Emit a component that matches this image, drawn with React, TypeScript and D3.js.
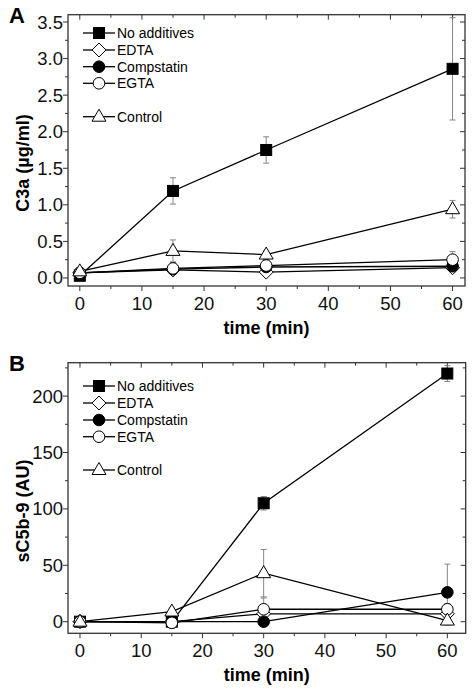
import React from "react";
import * as d3 from "d3";

const times = [0, 15, 30, 60];
const seriesNames = ["No additives", "EDTA", "Compstatin", "EGTA", "Control"];
const markerKinds = ["square", "diamond", "dot", "circle", "triangle"];

// Panel A: C3a (µg/ml)
const c3aNoAdd = [0.03, 1.19, 1.75, 2.86];
const c3aNoAddErr = [0.02, 0.18, 0.18, 0.7];
const c3aEDTA = [0.07, 0.11, 0.08, 0.14];
const c3aEDTAErr = [0.02, 0.03, 0.03, 0.03];
const c3aComp = [0.07, 0.12, 0.15, 0.16];
const c3aCompErr = [0.02, 0.05, 0.05, 0.04];
const c3aEGTA = [0.07, 0.13, 0.17, 0.25];
const c3aEGTAErr = [0.02, 0.08, 0.08, 0.11];
const c3aCtrl = [0.09, 0.37, 0.32, 0.94];
const c3aCtrlErr = [0.05, 0.15, 0.05, 0.12];

// Panel B: sC5b-9 (AU)
const c5NoAdd = [0, 0, 105, 220];
const c5NoAddErr = [0, 1, 6, 7];
const c5EDTA = [0, 0, 7, 7];
const c5EDTAErr = [0, 1, 2, 2];
const c5Comp = [0, 0, 0, 26];
const c5CompErr = [0, 1, 1, 25];
const c5EGTA = [0, -1, 11, 11];
const c5EGTAErr = [0, 5, 10, 5];
const c5Ctrl = [0, 9, 43, 1];
const c5CtrlErr = [0, 3, 21, 4];

const xTicksMajor = [0, 10, 20, 30, 40, 50, 60];
const aYTicks = [0, 0.5, 1.0, 1.5, 2.0, 2.5, 3.0, 3.5];
const bYTicks = [0, 50, 100, 150, 200];

const FONT = "Liberation Sans, Arial, Helvetica, sans-serif";

function Marker({ kind, x, y }: { kind: string; x: number; y: number }) {
  const sw = 1;
  if (kind === "square")
    return <rect x={x - 5.5} y={y - 5.5} width={11} height={11} fill="#000" stroke="#000" strokeWidth={sw} />;
  if (kind === "diamond")
    return (
      <path d={`M${x},${y - 7}L${x + 7},${y}L${x},${y + 7}L${x - 7},${y}Z`} fill="#fff" stroke="#000" strokeWidth={sw} />
    );
  if (kind === "dot") return <circle cx={x} cy={y} r={5.8} fill="#000" stroke="#000" strokeWidth={sw} />;
  if (kind === "circle") return <circle cx={x} cy={y} r={5.8} fill="#fff" stroke="#000" strokeWidth={sw} />;
  return (
    <path d={`M${x},${y - 7.5}L${x + 7},${y + 4.5}L${x - 7},${y + 4.5}Z`} fill="#fff" stroke="#000" strokeWidth={sw} />
  );
}

type PanelProps = {
  letter: string;
  left: number;
  right: number;
  top: number;
  bottom: number;
  xDomain: [number, number];
  yDomain: [number, number];
  yTicks: number[];
  yMinorStep: number;
  yFmt: (v: number) => string;
  yLabel: string;
  yLabelCenter: number;
  values: number[][];
  errors: number[][];
  legendY: number[];
};

function Panel(p: PanelProps) {
  const x = d3.scaleLinear().domain(p.xDomain).range([p.left, p.right]);
  const y = d3.scaleLinear().domain(p.yDomain).range([p.bottom, p.top]);
  const line = d3
    .line<[number, number]>()
    .x((d) => x(d[0]))
    .y((d) => y(d[1]));
  const xMinor = d3.range(5, 61, 10);
  const yMinor: number[] = [];
  for (let v = p.yTicks[0] + p.yMinorStep; v <= p.yDomain[1]; v += p.yMinorStep * 2) yMinor.push(v);
  const frame = "#333";
  const maj = 5;
  const min = 3;
  const clipId = "clip" + p.letter;
  return (
    <g fontFamily={FONT}>
      <defs>
        <clipPath id={clipId}>
          <rect x={p.left} y={p.top} width={p.right - p.left} height={p.bottom - p.top} />
        </clipPath>
      </defs>
      {/* ticks */}
      {xTicksMajor.map((t) => (
        <g key={"xm" + t} stroke={frame} strokeWidth={1}>
          <line x1={x(t)} x2={x(t)} y1={p.bottom} y2={p.bottom + maj} />
          <line x1={x(t)} x2={x(t)} y1={p.top} y2={p.top + maj} />
        </g>
      ))}
      {xMinor.map((t) => (
        <g key={"xn" + t} stroke={frame} strokeWidth={1}>
          <line x1={x(t)} x2={x(t)} y1={p.bottom} y2={p.bottom + min} />
          <line x1={x(t)} x2={x(t)} y1={p.top} y2={p.top + min} />
        </g>
      ))}
      {p.yTicks.map((t) => (
        <g key={"ym" + t} stroke={frame} strokeWidth={1}>
          <line x1={p.left - maj} x2={p.left} y1={y(t)} y2={y(t)} />
          <line x1={p.right - maj} x2={p.right} y1={y(t)} y2={y(t)} />
        </g>
      ))}
      {yMinor.map((t) => (
        <g key={"yn" + t} stroke={frame} strokeWidth={1}>
          <line x1={p.left - min} x2={p.left} y1={y(t)} y2={y(t)} />
          <line x1={p.right - min} x2={p.right} y1={y(t)} y2={y(t)} />
        </g>
      ))}
      <rect
        x={p.left}
        y={p.top}
        width={p.right - p.left}
        height={p.bottom - p.top}
        fill="none"
        stroke={frame}
        strokeWidth={1.3}
      />
      {/* tick labels */}
      {xTicksMajor.map((t) => (
        <text key={"xl" + t} x={x(t)} y={p.bottom + 24} textAnchor="middle" fontSize={18.5} fill="#111">
          {t}
        </text>
      ))}
      {p.yTicks.map((t) => (
        <text key={"yl" + t} x={p.left - 5} y={y(t) + 6.5} textAnchor="end" fontSize={18.5} fill="#111">
          {p.yFmt(t)}
        </text>
      ))}
      <text x={(p.left + p.right) / 2 + 0} y={p.bottom + 48} textAnchor="middle" fontSize={18} fontWeight="bold">
        time (min)
      </text>
      <text
        transform={`translate(29,${p.yLabelCenter}) rotate(-90)`}
        textAnchor="middle"
        fontSize={18}
        fontWeight="bold"
      >
        {p.yLabel}
      </text>
      <text x={9} y={p.top + 8} fontSize={22} fontWeight="bold">
        {p.letter}
      </text>
      {/* data */}
      <g clipPath={`url(#${clipId})`}>
        {p.values.map((vals, i) => (
          <path
            key={"ln" + i}
            d={line(times.map((t, j) => [t, vals[j]] as [number, number])) || ""}
            fill="none"
            stroke="#000"
            strokeWidth={1.3}
          />
        ))}
        {p.values.map((vals, i) =>
          vals.map((v, j) => {
            const e = p.errors[i][j];
            if (e <= 0) return null;
            const cx = x(times[j]);
            return (
              <g key={"eb" + i + "-" + j} stroke="#777" strokeWidth={0.9}>
                <line x1={cx} x2={cx} y1={y(v - e)} y2={y(v + e)} />
                <line x1={cx - 3} x2={cx + 3} y1={y(v + e)} y2={y(v + e)} />
                <line x1={cx - 3} x2={cx + 3} y1={y(v - e)} y2={y(v - e)} />
              </g>
            );
          })
        )}
        {p.values.map((vals, i) =>
          vals.map((v, j) => <Marker key={"mk" + i + "-" + j} kind={markerKinds[i]} x={x(times[j])} y={y(v)} />)
        )}
      </g>
      {/* legend */}
      {seriesNames.map((name, i) => (
        <g key={"lg" + i}>
          <line x1={83} x2={115} y1={p.legendY[i]} y2={p.legendY[i]} stroke="#000" strokeWidth={1.3} />
          <Marker kind={markerKinds[i]} x={99} y={p.legendY[i]} />
          <text x={117} y={p.legendY[i] + 5} fontSize={14}>
            {name}
          </text>
        </g>
      ))}
    </g>
  );
}

export default function App() {
  return (
    <svg
      width={473}
      height={694}
      style={{ position: "absolute", left: 0, top: 0, background: "#fff" }}
      xmlns="http://www.w3.org/2000/svg"
    >
      <rect width={473} height={694} fill="#fff" />
      <Panel
        letter="A"
        left={68}
        right={465}
        top={14.7}
        bottom={286}
        xDomain={[-1.9, 62]}
        yDomain={[-0.11, 3.6]}
        yTicks={aYTicks}
        yMinorStep={0.25}
        yFmt={(v) => v.toFixed(1)}
        yLabel="C3a (µg/ml)"
        yLabelCenter={163}
        values={[c3aNoAdd, c3aEDTA, c3aComp, c3aEGTA, c3aCtrl]}
        errors={[c3aNoAddErr, c3aEDTAErr, c3aCompErr, c3aEGTAErr, c3aCtrlErr]}
        legendY={[33, 50, 66.7, 83.3, 116.7]}
      />
      <Panel
        letter="B"
        left={68}
        right={465.7}
        top={362.7}
        bottom={633.3}
        xDomain={[-1.96, 63]}
        yDomain={[-10.3, 229.6]}
        yTicks={bYTicks}
        yMinorStep={25}
        yFmt={(v) => String(v)}
        yLabel="sC5b-9 (AU)"
        yLabelCenter={511}
        values={[c5NoAdd, c5EDTA, c5Comp, c5EGTA, c5Ctrl]}
        errors={[c5NoAddErr, c5EDTAErr, c5CompErr, c5EGTAErr, c5CtrlErr]}
        legendY={[386, 403, 420, 436.7, 470]}
      />
    </svg>
  );
}
